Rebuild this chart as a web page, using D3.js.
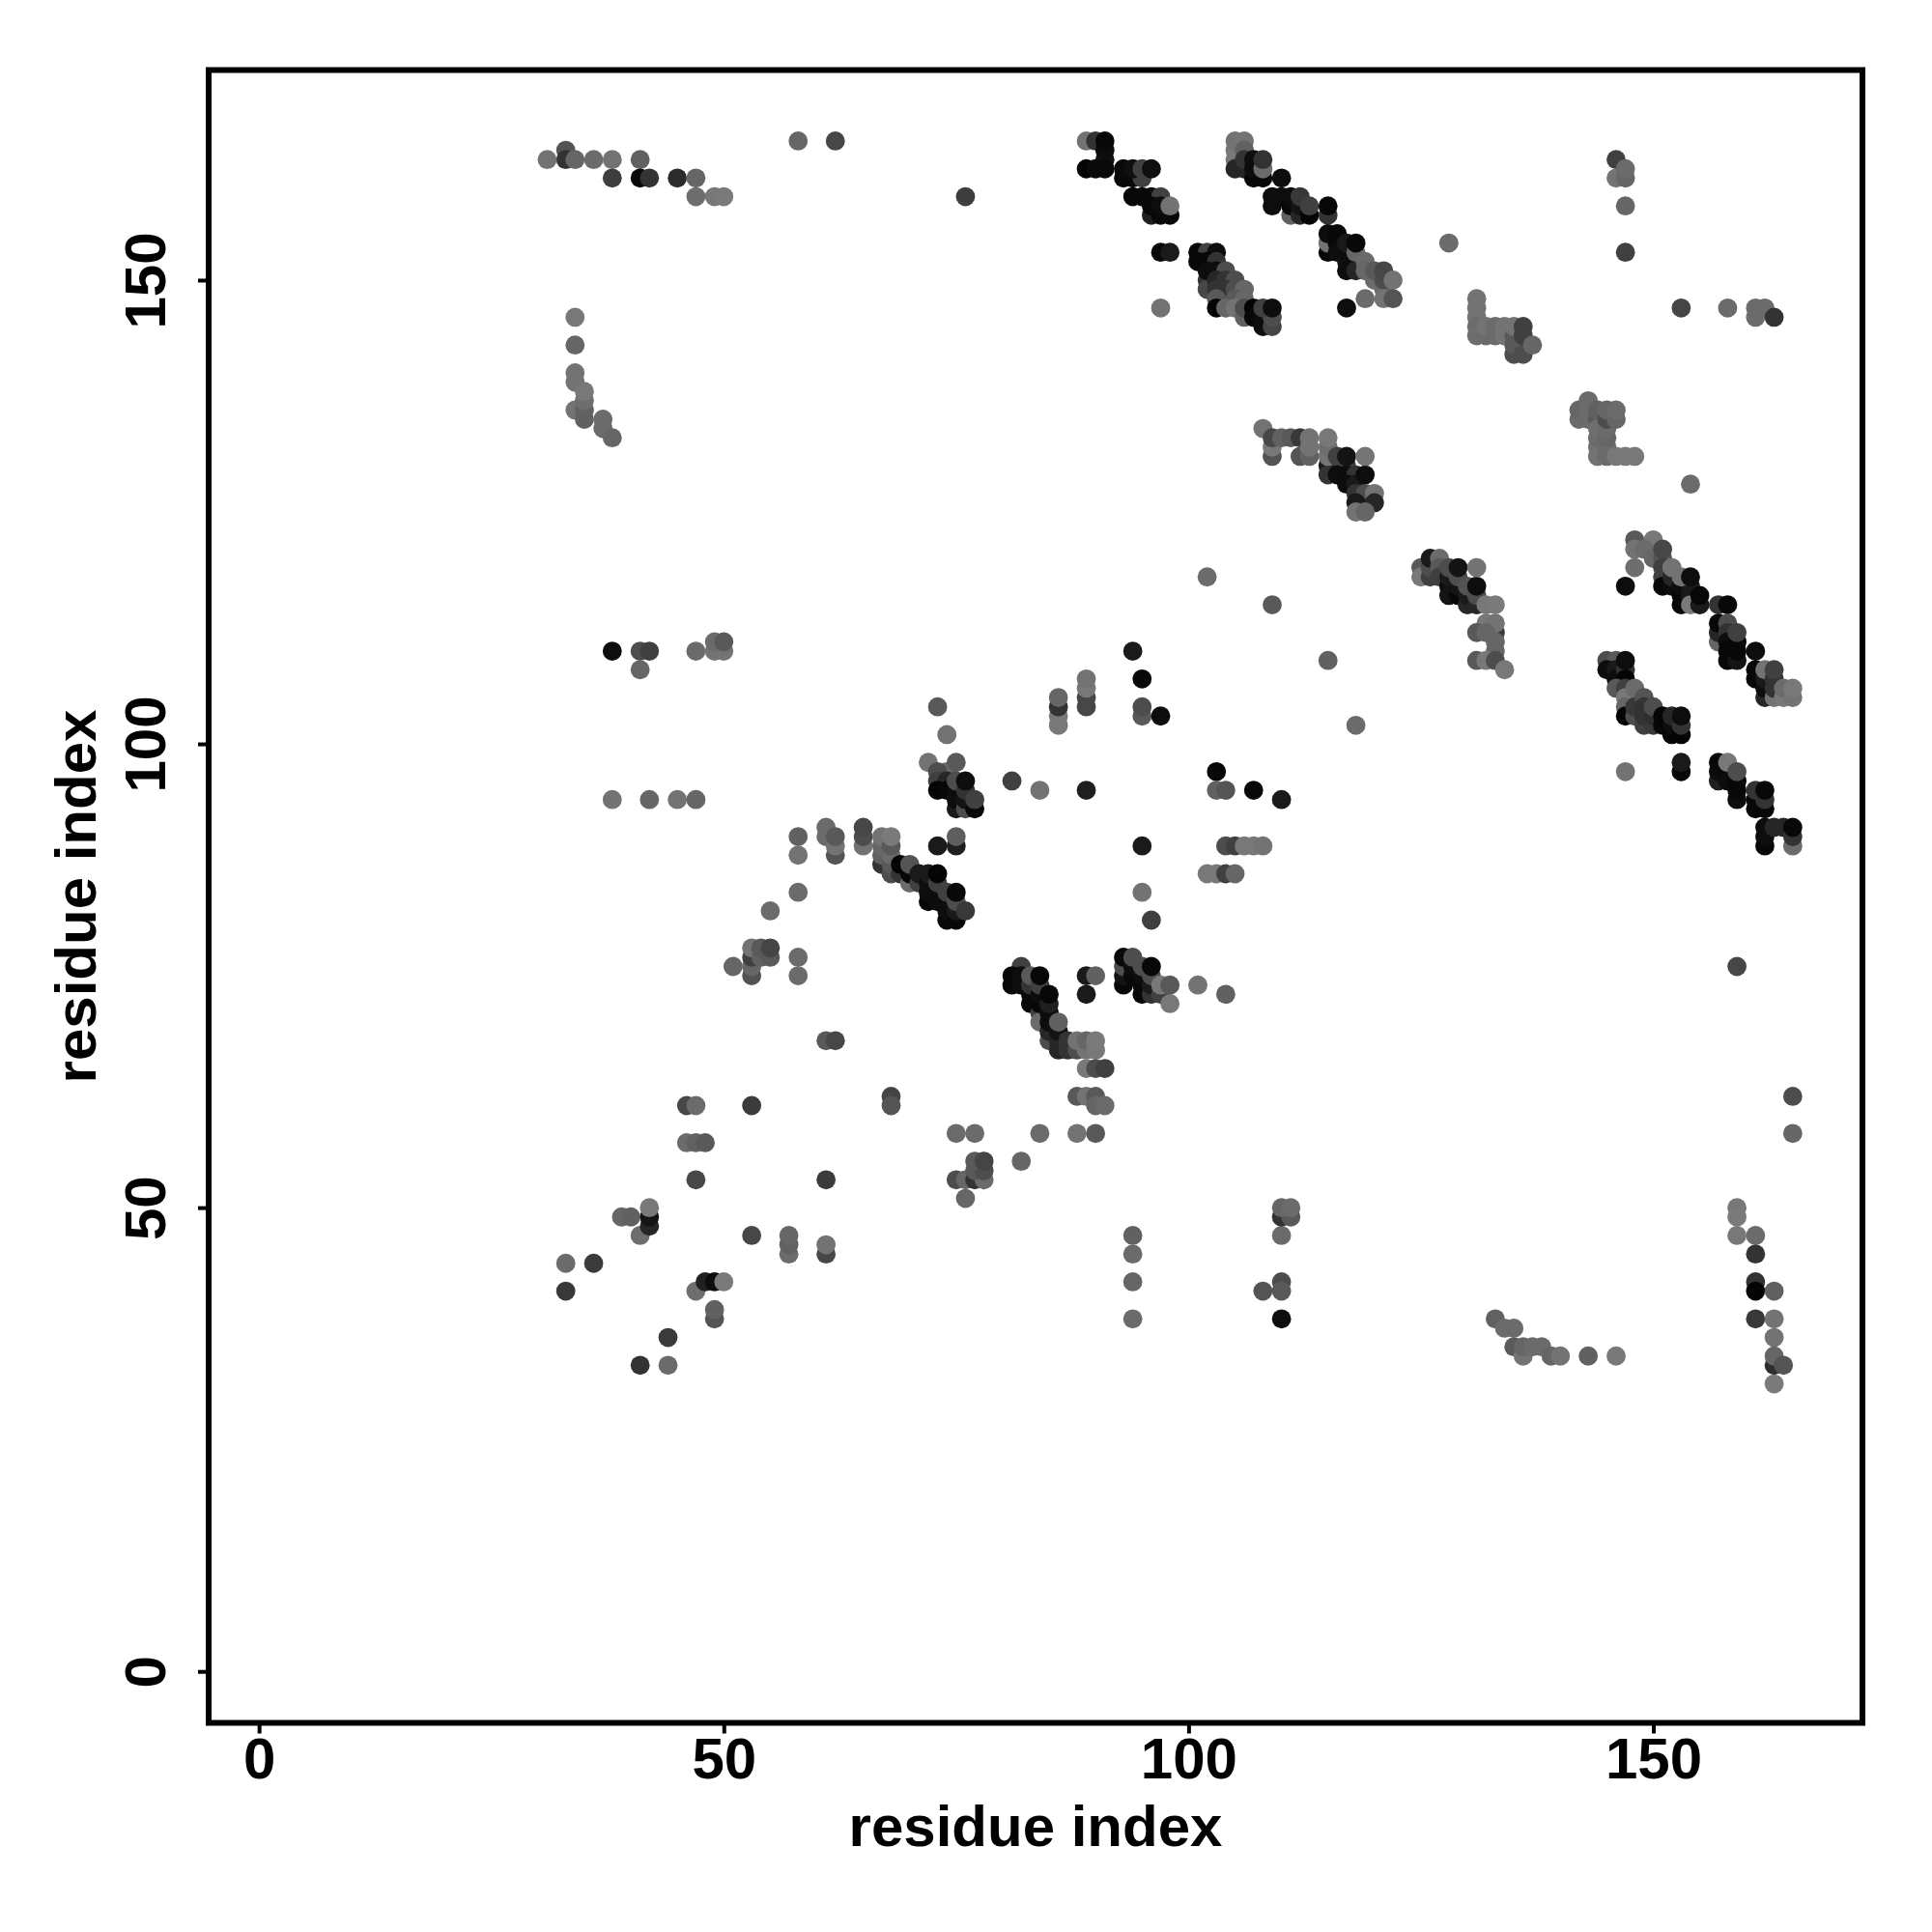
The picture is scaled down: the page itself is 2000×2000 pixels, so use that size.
<!DOCTYPE html>
<html><head><meta charset="utf-8">
<script src="https://d3js.org/d3.v7.min.js"></script>
<style>html,body{margin:0;padding:0;background:#fff}svg{display:block}
text{font-family:"Liberation Sans",Arial,sans-serif;font-weight:bold;fill:#000}</style>
</head><body><div id="c"></div>
<script>
// each contact: [residue i, residue j, grey level 0 (black) .. 0.5]
const xTicks=[0,50,100,150], yTicks=[0,50,100,150];
const xLabel="residue index", yLabel="residue index";
const topLeft=[[33,164,.33],[33,163,.2],[31,163,.45],[34,163,.4],[36,163,.42],[38,163,.45],[41,163,.38],[38,161,.24],[41,161,.03],[42,161,.2],[45,161,.17],[47,161,.4],[47,159,.43],[49,159,.47],[50,159,.48],[58,165,.4],[62,165,.28],[76,159,.24]];
const leftArc=[[34,146,.47],[34,143,.4],[34,139,.45],[34,140,.45],[34,136,.45],[35,135,.38],[35,136,.38],[35,137,.43],[35,138,.47],[37,134,.42],[37,135,.42],[38,133,.4]];
const blockA=[[89,165,.45],[90,165,.2],[91,163,.08],[91,164,.05],[91,165,.03],[89,162,.02],[90,162,.04],[91,162,.04],[93,161,.03],[94,161,.03],[95,161,.25],[93,162,.04],[94,162,.06],[95,162,.25],[96,162,.06],[96,157,.12],[97,157,.03],[98,157,.03],[94,159,.03],[95,159,.03],[96,159,.03],[97,159,.25],[96,158,.03],[97,158,.05],[98,158,.45],[97,153,.03],[98,153,.1],[97,147,.45]];
const blockB=[[101,153,.03],[102,153,.25],[103,153,.05],[101,152,.03],[102,152,.03],[103,152,.2],[102,150,.2],[102,149,.28],[102,151,.05],[103,151,.05],[104,151,.3],[103,150,.15],[104,150,.2],[105,150,.3],[103,149,.2],[104,149,.2],[105,149,.3],[106,149,.4],[103,148,.35],[105,148,.35],[106,148,.4],[103,147,.02],[104,147,.4],[105,147,.45],[106,146,.38],[106,147,.3],[107,147,.02],[107,146,.03],[108,145,.05],[108,146,.05],[109,145,.27],[109,146,.3],[108,147,.25],[109,147,.05]];
const blockC=[[105,163,.47],[105,164,.47],[105,165,.45],[106,165,.45],[106,164,.38],[105,162,.15],[106,162,.15],[106,163,.2],[107,161,.03],[108,161,.03],[107,162,.05],[107,163,.05],[108,162,.42],[108,163,.2],[110,161,.05],[109,158,.05],[109,159,.05],[110,159,.05],[111,157,.38],[111,158,.03],[111,159,.05],[112,157,.15],[112,158,.08],[112,159,.22],[113,157,.02],[113,158,.25],[115,157,.2],[115,158,.03],[115,153,.03],[115,154,.45],[115,155,.05],[116,154,.03],[116,155,.03],[116,153,.05],[117,152,.08],[117,153,.05],[117,151,.05],[117,154,.1],[118,151,.15],[118,153,.4],[118,154,.03],[119,152,.42],[119,151,.4],[120,150,.42],[120,151,.35],[121,149,.42],[121,150,.3],[121,151,.28],[122,150,.45],[119,148,.42],[121,148,.45],[122,148,.33],[117,147,.05]];
const blockD=[[108,134,.45],[109,131,.33],[109,132,.47],[109,133,.28],[110,133,.38],[111,133,.35],[112,131,.33],[112,133,.22],[113,131,.38],[113,132,.45],[113,133,.45],[115,130,.1],[116,130,.15],[115,129,.2],[115,131,.45],[115,132,.43],[115,133,.47],[116,131,.25],[117,130,.25],[116,129,.05],[117,129,.05],[118,129,.2],[117,128,.05],[118,128,.1],[119,129,.05],[117,131,.08],[119,131,.46],[118,127,.2],[119,127,.3],[120,127,.45],[118,126,.1],[120,126,.15],[118,125,.45],[119,125,.4]];
const blockE=[[131,148,.45],[131,147,.45],[131,146,.45],[131,145,.42],[131,144,.43],[132,144,.42],[132,145,.45],[133,144,.42],[133,145,.42],[134,144,.45],[134,145,.45],[135,142,.3],[135,143,.35],[135,144,.35],[135,145,.45],[136,142,.3],[136,144,.25],[136,145,.25],[137,143,.4]];
const blockF=[[142,135,.42],[142,136,.4],[143,135,.42],[143,136,.42],[143,137,.42],[144,135,.35],[144,136,.38],[144,131,.45],[144,132,.45],[144,133,.42],[144,134,.43],[145,131,.42],[145,132,.42],[145,133,.4],[145,134,.42],[145,135,.3],[145,136,.4],[146,135,.4],[146,136,.42],[146,131,.47],[147,131,.47],[148,131,.47]];
const blockG=[[125,119,.35],[125,118,.47],[126,118,.25],[126,119,.3],[126,120,.1],[127,120,.42],[127,119,.35],[127,118,.25],[128,117,.05],[128,116,.08],[128,118,.1],[128,119,.3],[129,116,.03],[129,117,.08],[129,118,.3],[129,119,.08],[130,115,.15],[130,116,.1],[130,117,.33],[131,115,.15],[131,116,.3],[131,117,.05],[131,119,.45],[132,115,.47],[133,115,.48],[132,113,.47],[131,112,.35],[133,112,.22],[133,113,.45],[132,112,.4],[133,111,.4],[133,110,.4],[131,109,.35],[132,109,.47],[133,109,.3],[134,108,.47]];
const blockH=[[148,122,.35],[150,122,.47],[148,121,.45],[149,121,.42],[150,120,.4],[151,120,.33],[151,121,.28],[151,119,.25],[151,118,.25],[151,117,.03],[152,117,.05],[152,118,.15],[152,119,.45],[153,116,.02],[153,117,.05],[153,115,.03],[154,116,.1],[154,117,.1],[154,115,.48],[153,118,.45],[154,118,.05],[155,115,.1],[155,116,.03],[148,119,.43],[147,117,.05],[157,115,.2],[158,115,.03],[157,111,.4],[157,112,.15],[157,113,.03],[158,113,.3],[158,112,.2],[158,111,.05],[158,110,.03],[158,109,.03],[159,109,.08],[159,110,.03],[159,111,.03],[159,112,.25],[161,110,.05],[161,107,.03],[161,108,.03],[162,105,.15],[162,106,.05],[162,107,.1],[162,108,.45],[163,105,.45],[163,106,.2],[163,107,.2],[163,108,.25],[164,105,.47],[164,106,.42],[165,105,.45],[165,106,.47]];
const blockI=[[145,109,.3],[146,109,.35],[145,108,.05],[146,108,.1],[146,107,.05],[147,108,.2],[147,109,.05],[147,107,.02],[146,106,.35],[147,106,.25],[147,105,.47],[147,104,.4],[147,103,.02],[148,103,.3],[148,104,.22],[148,106,.42],[149,105,.33],[149,102,.25],[149,103,.2],[149,104,.2],[150,102,.22],[150,103,.18],[150,104,.3],[151,102,.03],[151,103,.02],[152,101,.02],[152,102,.05],[152,103,.15],[153,101,.02],[153,102,.2],[153,103,.05]];
const blockJ=[[147,97,.45],[153,97,.03],[153,98,.1],[157,96,.12],[157,97,.05],[157,98,.03],[158,97,.03],[158,96,.05],[158,98,.47],[159,94,.05],[159,95,.03],[159,96,.03],[159,97,.3],[161,93,.03],[161,94,.03],[161,95,.2],[162,93,.03],[162,94,.2],[162,95,.03],[162,89,.03],[162,90,.05],[162,91,.05],[163,91,.15],[164,91,.15],[165,89,.42],[165,90,.2],[165,91,.03]];
const blockK=[[73,104,.35],[74,101,.45],[72,98,.45],[74,97,.42],[75,98,.35],[73,97,.3],[73,96,.25],[74,96,.15],[73,95,.02],[74,95,.03],[75,93,.1],[75,94,.05],[75,95,.05],[75,96,.3],[76,93,.3],[76,94,.08],[76,95,.2],[76,96,.05],[77,93,.03],[77,94,.25],[81,96,.25],[84,95,.45],[89,95,.12]];
const columns=[[86,102,.47],[86,103,.47],[86,104,.2],[86,105,.4],[89,104,.28],[89,105,.28],[89,106,.47],[89,107,.45],[94,110,.1],[95,107,.03],[95,103,.35],[95,104,.3],[97,103,.05],[103,97,.03],[103,95,.38],[104,95,.33],[107,95,.03],[110,94,.1],[95,89,.1],[104,89,.3],[105,89,.25],[106,89,.47],[107,89,.47],[108,89,.45],[102,86,.47],[103,86,.47],[104,86,.25],[105,86,.4],[95,84,.45],[96,81,.25],[102,118,.42],[109,115,.35],[115,109,.38],[118,102,.42],[128,154,.42],[154,128,.42],[159,76,.28]];
const blockL=[[58,90,.38],[58,88,.45],[58,84,.42],[55,82,.42],[61,90,.42],[61,91,.42],[62,88,.33],[62,89,.45],[62,90,.35],[65,89,.45],[65,90,.3],[65,91,.28],[73,89,.1],[75,89,.12],[75,90,.37],[67,87,.2],[67,88,.38],[67,89,.4],[67,90,.45],[68,86,.3],[68,87,.35],[68,88,.42],[68,89,.35],[68,90,.48],[69,86,.2],[69,87,.02],[70,85,.42],[70,86,.03],[70,87,.33],[71,85,.25],[71,86,.1],[72,83,.03],[72,84,.05],[72,85,.05],[72,86,.1],[73,83,.05],[73,84,.05],[73,85,.25],[73,86,.02],[74,81,.03],[74,82,.05],[74,84,.25],[75,81,.03],[75,82,.1],[75,83,.3],[75,84,.03],[76,82,.22]];
const blockM=[[51,76,.4],[53,75,.32],[53,76,.4],[53,77,.25],[53,78,.45],[54,77,.38],[54,78,.35],[55,77,.35],[55,78,.27],[58,77,.42],[58,75,.42],[61,68,.35],[62,68,.28]];
const blockN=[[82,76,.25],[81,74,.03],[81,75,.03],[82,74,.05],[82,75,.05],[83,72,.03],[83,73,.03],[83,74,.2],[83,75,.35],[84,71,.25],[84,70,.42],[84,72,.03],[84,73,.05],[84,74,.25],[84,75,.03],[85,68,.3],[85,69,.15],[85,70,.05],[85,71,.05],[85,72,.12],[85,73,.03],[86,67,.15],[86,68,.15],[86,69,.08],[86,70,.38],[87,67,.2],[87,68,.2],[88,67,.3],[88,68,.45],[89,67,.45],[89,68,.4],[90,67,.47],[90,68,.48],[89,75,.1],[90,75,.38],[89,73,.1],[89,65,.47],[90,65,.3],[91,65,.25],[88,62,.35],[89,62,.45],[90,62,.35],[90,61,.4],[91,61,.42],[84,58,.42],[88,58,.45],[90,58,.35],[82,55,.4]];
const blockO=[[93,74,.03],[93,75,.08],[93,76,.3],[93,77,.03],[94,75,.03],[94,76,.05],[94,77,.3],[95,73,.02],[95,74,.03],[95,75,.05],[95,76,.3],[96,73,.2],[96,74,.1],[96,75,.3],[96,76,.03],[97,73,.25],[97,74,.47],[98,72,.47],[98,74,.35],[101,74,.45],[104,73,.38]];
const lowerLeft=[[46,61,.28],[47,61,.42],[53,61,.23],[68,62,.27],[68,61,.33],[46,57,.42],[47,57,.38],[48,57,.35],[47,53,.28],[61,53,.23],[75,58,.42],[77,58,.42],[75,53,.3],[76,53,.4],[77,53,.2],[78,53,.42],[77,54,.35],[78,54,.3],[77,55,.35],[78,55,.27],[76,51,.4],[39,49,.4],[40,49,.38],[41,47,.43],[42,48,.15],[42,49,.08],[42,50,.47],[53,47,.28],[57,45,.42],[57,46,.38],[57,47,.4],[61,45,.28],[61,46,.45],[33,44,.42],[36,44,.23],[33,41,.22],[47,41,.43],[48,42,.13],[49,42,.05],[50,42,.48],[49,38,.33],[49,39,.38],[44,36,.23],[41,33,.2],[44,33,.42],[38,110,.05],[41,110,.3],[42,110,.25],[41,108,.4],[47,110,.42],[49,110,.45],[50,110,.45],[49,111,.42],[50,111,.35],[38,94,.45],[42,94,.4],[45,94,.45],[47,94,.4],[94,47,.38],[94,45,.42],[94,42,.4],[94,38,.42],[108,41,.33],[110,42,.3],[110,41,.35],[110,38,.05],[110,47,.42],[110,49,.2],[111,49,.35],[110,50,.4],[111,50,.42]];
const lowerRight=[[165,62,.3],[165,58,.4],[159,50,.47],[159,49,.48],[159,47,.47],[161,47,.42],[161,45,.2],[161,42,.2],[161,41,.02],[163,41,.38],[161,38,.22],[163,38,.45],[163,36,.45],[163,33,.18],[163,34,.4],[164,33,.33],[163,31,.48],[133,38,.38],[134,37,.42],[135,37,.42],[135,35,.35],[136,34,.45],[136,35,.4],[137,35,.42],[138,35,.42],[139,34,.4],[140,34,.45],[143,34,.38],[146,34,.47]];
const rightTop=[[146,163,.25],[146,161,.45],[147,161,.4],[147,162,.42],[147,158,.4],[147,153,.25],[153,147,.27],[158,147,.42],[161,146,.42],[161,147,.42],[162,147,.42],[163,146,.2]];

const contacts=[].concat(topLeft,leftArc,blockA,blockB,blockC,blockD,blockE,blockF,blockG,blockH,blockI,blockJ,blockK,columns,blockL,blockM,blockN,blockO,lowerLeft,lowerRight,rightTop);

const L=216,R=1928,T=72.5,B=1783.5;
const x=d3.scaleLinear().domain([-5.42,172.5]).range([L,R]);
const y=d3.scaleLinear().domain([-5.55,172.65]).range([B,T]);
const svg=d3.select("#c").append("svg").attr("width",2000).attr("height",2000);
svg.append("g").selectAll("circle").data(contacts).join("circle")
  .attr("cx",d=>x(d[0])).attr("cy",d=>y(d[1])).attr("r",9.9)
  .attr("fill",d=>d3.interpolateRgb("#000","#fff")(d[2]));
svg.append("rect").attr("x",L).attr("y",T).attr("width",R-L).attr("height",B-T)
  .attr("fill","none").attr("stroke","#000").attr("stroke-width",6);

const xa=svg.append("g").attr("transform",`translate(0,${B})`)
  .call(d3.axisBottom(x).tickValues(xTicks).tickSize(11).tickPadding(12).tickFormat(d3.format("d")));
const ya=svg.append("g").attr("transform",`translate(${L},0)`)
  .call(d3.axisLeft(y).tickValues(yTicks).tickSize(11).tickFormat(d3.format("d")));
[xa,ya].forEach(a=>{a.select(".domain").remove();a.selectAll("line").attr("stroke","#000").attr("stroke-width",4);});
xa.selectAll("text").attr("font-size",60).attr("dy",null).attr("y",57)
  .style("font-family",'"Liberation Sans"').style("font-weight","bold");
ya.selectAll("text").attr("font-size",60).attr("dy",null).attr("x",null)
  .attr("text-anchor","middle")
  .attr("transform","translate(-45,0) rotate(-90)")
  .style("font-family",'"Liberation Sans"').style("font-weight","bold");
svg.append("text").attr("x",(L+R)/2).attr("y",1911).attr("text-anchor","middle").attr("font-size",60).text(xLabel);
svg.append("text").attr("transform",`translate(99,${(T+B)/2}) rotate(-90)`).attr("text-anchor","middle").attr("font-size",60).text(yLabel);
</script></body></html>
